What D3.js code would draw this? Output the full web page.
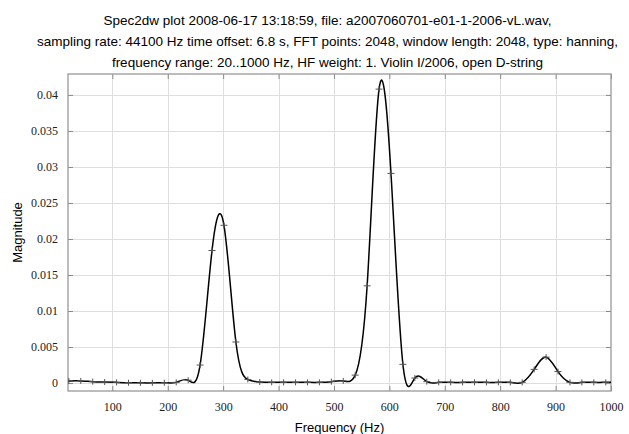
<!DOCTYPE html>
<html>
<head>
<meta charset="utf-8">
<script src="https://cdn.jsdelivr.net/npm/d3@7"></script>
<style>
  body { margin: 0; background: #fff; }
  svg { display: block; }
</style>
</head>
<body>
<svg></svg>
<script>
var titleLines = [
    "Spec2dw plot 2008-06-17 13:18:59, file: a2007060701-e01-1-2006-vL.wav,",
    "sampling rate: 44100 Hz time offset: 6.8 s, FFT points: 2048, window length: 2048, type: hanning,",
    "frequency range: 20..1000 Hz, HF weight: 1. Violin I/2006, open D-string"
];

// FFT bin index k -> frequency k * 44100 / 2048
var bins = d3.range(0, 48);
var magnitude = [
    0.0003, 0.0003, 0.0003, 0.0002, 0.00015, 0.0001, 0.00005, 0.00003, 0.00003, 0.00005,
    0.0001, 0.0004, 0.0025, 0.0184, 0.0219, 0.0057, 0.0005, 0.00015, 0.0001, 0.0001,
    0.0001, 0.0001, 0.0001, 0.0002, 0.0003, 0.0011, 0.0135, 0.0408, 0.0291, 0.0026,
    0.0007, 0.0002, 0.0001, 0.0001, 0.0001, 0.0001, 0.0001, 0.0001, 0.0001, 0.0001,
    0.0019, 0.0036, 0.0016, 0.0001, 0.0001, 0.0001, 0.0001, 0.0001
];
var xTicks = [100, 200, 300, 400, 500, 600, 700, 800, 900, 1000];
var yTicks = [0, 0.005, 0.01, 0.015, 0.02, 0.025, 0.03, 0.035, 0.04];
var yTickLabels = ["0", "0.005", "0.01", "0.015", "0.02", "0.025", "0.03", "0.035", "0.04"];

var binWidth = 44100 / 2048;
var data = bins.map(function(k, i) {
    return {f: k * binWidth, v: magnitude[i]};
});

var width = 629, height = 434;
var pLeft = 68, pRight = 611, pTop = 74, pBottom = 391;

var svg = d3.select("svg")
    .attr("width", width)
    .attr("height", height);

var x = d3.scaleLinear().domain([20, 1000]).range([pLeft, pRight]);
var y = d3.scaleLinear().domain([-0.0011, 0.0429]).range([pBottom, pTop]);

// title
svg.append("g").selectAll("text")
    .data(titleLines)
    .enter().append("text")
    .attr("x", width / 2 + 13)
    .attr("y", function(d, i) { return 25 + i * 21; })
    .attr("text-anchor", "middle")
    .attr("font-family", "Liberation Sans, Arial, sans-serif")
    .attr("font-size", 13.5)
    .text(function(d) { return d; });

// grid
var grid = svg.append("g").attr("stroke", "#dedede").attr("stroke-width", 1);
grid.selectAll(".gx")
    .data(xTicks.filter(function(d) { return d < 1000; }))
    .enter().append("line")
    .attr("x1", function(d) { return Math.round(x(d)) + 0.5; })
    .attr("x2", function(d) { return Math.round(x(d)) + 0.5; })
    .attr("y1", pTop).attr("y2", pBottom);
grid.selectAll(".gy")
    .data(yTicks)
    .enter().append("line")
    .attr("y1", function(d) { return Math.round(y(d)) + 0.5; })
    .attr("y2", function(d) { return Math.round(y(d)) + 0.5; })
    .attr("x1", pLeft).attr("x2", pRight);

// axes with inward ticks
var xAxis = svg.append("g")
    .attr("transform", "translate(0," + pBottom + ")")
    .call(d3.axisBottom(x).tickValues(xTicks).tickSize(-5).tickPadding(11).tickFormat(d3.format("d")));
var xTop = svg.append("g")
    .attr("transform", "translate(0," + pTop + ")")
    .call(d3.axisTop(x).tickValues(xTicks).tickSize(-5).tickFormat(""));
var yAxis = svg.append("g")
    .attr("transform", "translate(" + pLeft + ",0)")
    .call(d3.axisLeft(y).tickValues(yTicks).tickSize(-5).tickPadding(10)
        .tickFormat(function(d, i) { return yTickLabels[i]; }));
var yRight = svg.append("g")
    .attr("transform", "translate(" + pRight + ",0)")
    .call(d3.axisRight(y).tickValues(yTicks).tickSize(-5).tickFormat(""));

[xAxis, xTop, yAxis, yRight].forEach(function(a) {
    a.select(".domain").remove();
    a.selectAll("line").attr("stroke", "#888");
    a.selectAll("text")
        .style("font-family", "'Liberation Serif', 'DejaVu Serif', serif")
        .style("font-size", "12px")
        .attr("fill", "#222");
});

// frame
svg.append("rect")
    .attr("x", pLeft).attr("y", pTop)
    .attr("width", pRight - pLeft).attr("height", pBottom - pTop)
    .attr("fill", "none")
    .attr("stroke", "#999")
    .attr("stroke-width", 1.3);

// clip
svg.append("clipPath").attr("id", "plotclip")
    .append("rect")
    .attr("x", pLeft).attr("y", pTop)
    .attr("width", pRight - pLeft).attr("height", pBottom - pTop);

var line = d3.line()
    .x(function(d) { return x(d.f); })
    .y(function(d) { return y(d.v); })
    .curve(d3.curveNatural);

var plot = svg.append("g").attr("clip-path", "url(#plotclip)");

plot.append("path")
    .datum(data)
    .attr("d", line)
    .attr("fill", "none")
    .attr("stroke", "#000")
    .attr("stroke-width", 1.5);

plot.selectAll(".mark")
    .data(data.filter(function(d) { return d.f >= 20 && d.f <= 1000; }))
    .enter().append("path")
    .attr("transform", function(d) { return "translate(" + x(d.f) + "," + y(d.v) + ")"; })
    .attr("d", "M-3.5,0H3.5M0,-3V3")
    .attr("stroke", "#555")
    .attr("stroke-width", 1);

// axis titles
svg.append("text")
    .attr("x", (pLeft + pRight) / 2)
    .attr("y", 432)
    .attr("text-anchor", "middle")
    .attr("font-family", "Liberation Sans, Arial, sans-serif")
    .attr("font-size", 13)
    .text("Frequency (Hz)");

svg.append("text")
    .attr("transform", "translate(22," + ((pTop + pBottom) / 2) + ") rotate(-90)")
    .attr("text-anchor", "middle")
    .attr("font-family", "Liberation Sans, Arial, sans-serif")
    .attr("font-size", 13)
    .text("Magnitude");
</script>
</body>
</html>
